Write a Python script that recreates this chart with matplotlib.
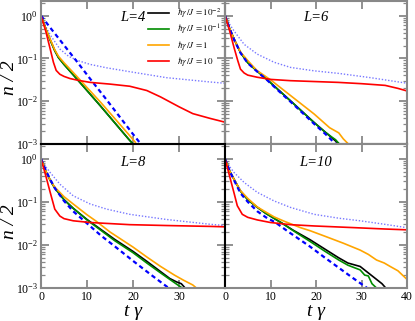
import numpy as np
import matplotlib.pyplot as plt
from matplotlib.ticker import LogLocator, NullFormatter

plt.rcParams['font.family'] = ['Liberation Serif', 'DejaVu Serif']
plt.rcParams['mathtext.fontset'] = 'stix'

# all values are log10(n/2), t = t*gamma

# ---------------- L = 4
t_dot4 = [0, 1, 2, 4.1, 6, 8, 10.7, 14.3, 19.3, 27.3, 36.7, 40]
dot4 = [0, -0.25, -0.45, -0.78, -0.95, -1.05, -1.14, -1.22, -1.31, -1.45, -1.55, -1.58]
t_dash4 = [0, 2, 5, 8, 11, 14, 17, 20, 22]
dash4 = [0, -0.28, -0.69, -1.1, -1.52, -1.93, -2.35, -2.77, -3.04]
t_red4 = [0, 1, 2, 2.7, 3.3, 4.1, 5, 6.3, 8, 10.7, 15, 19.3, 23, 26, 30, 33, 36.7, 40]
red4 = [0, -0.35, -0.78, -1.09, -1.28, -1.37, -1.42, -1.47, -1.51, -1.56, -1.6, -1.65,
        -1.75, -1.9, -2.13, -2.29, -2.4, -2.49]
t_blk4 = [0, 1, 2, 3, 3.8, 5, 7.8, 10, 13, 16, 19, 20]
blk4 = [0, -0.3, -0.57, -0.82, -0.98, -1.14, -1.48, -1.75, -2.12, -2.5, -2.88, -3.0]
t_grn4 = [0, 1, 2, 3, 3.8, 5, 7.8, 10, 13, 16, 19, 20]
grn4 = [0, -0.3, -0.57, -0.82, -0.98, -1.14, -1.48, -1.75, -2.12, -2.5, -2.88, -3.0]
t_org4 = [0, 1, 2, 3, 3.8, 5, 7.8, 10, 13, 16, 19, 20.5]
org4 = [0, -0.3, -0.55, -0.8, -0.95, -1.1, -1.42, -1.68, -2.03, -2.4, -2.77, -2.96]

# ---------------- L = 6
t_dot6 = [0, 1, 2, 4.2, 7.1, 10.8, 14.4, 19.6, 25, 32, 40]
dot6 = [0, -0.2, -0.36, -0.67, -0.9, -1.09, -1.21, -1.29, -1.35, -1.45, -1.58]
t_dash6 = [0, 1, 2, 3.4, 5, 7.1, 9.3, 12, 15, 19.6, 22, 24.5]
dash6 = [0, -0.3, -0.56, -0.87, -1.11, -1.31, -1.51, -1.78, -2.07, -2.53, -2.76, -3.02]
t_red6 = [0, 1, 2, 2.8, 3.4, 4.2, 5, 7.1, 10, 14.4, 19.6, 24.9, 30, 35.2, 38, 40]
red6 = [0, -0.35, -0.75, -1.05, -1.25, -1.34, -1.39, -1.44, -1.49, -1.52, -1.54, -1.56,
        -1.59, -1.63, -1.7, -1.76]
t_blk6 = [0, 1, 2, 3.4, 5, 7.1, 9.3, 12, 15, 19.6, 22, 25.3]
blk6 = [0, -0.3, -0.55, -0.86, -1.1, -1.3, -1.5, -1.76, -2.05, -2.5, -2.72, -3.02]
t_grn6 = [0, 1, 2, 3.4, 5, 7.1, 9.3, 12, 15, 19.6, 22, 23.5, 24.3, 25.3]
grn6 = [0, -0.3, -0.55, -0.86, -1.1, -1.3, -1.5, -1.76, -2.05, -2.5, -2.72, -2.84, -2.9, -3.02]
t_org6 = [0, 1, 2, 3.4, 5, 7, 10, 13, 16, 19.6, 23, 24, 25, 26, 27.3]
org6 = [0, -0.3, -0.55, -0.85, -1.05, -1.28, -1.5, -1.75, -2.0, -2.3, -2.62, -2.68,
        -2.74, -2.88, -3.02]

# ---------------- L = 8
t_dot8 = [0, 1, 2, 4.1, 7, 10.7, 14.3, 19.3, 27.3, 36.7, 40]
dot8 = [0, -0.18, -0.32, -0.59, -0.86, -1.05, -1.17, -1.29, -1.41, -1.52, -1.55]
t_dash8 = [0, 1, 2, 3, 5, 7, 10, 13, 16, 20, 24, 28]
dash8 = [0, -0.26, -0.48, -0.68, -0.98, -1.22, -1.5, -1.78, -2.03, -2.37, -2.7, -3.02]
t_red8 = [0, 1, 2, 3, 4.1, 5, 7, 10.7, 19.3, 27.3, 36.7, 40]
red8 = [0, -0.38, -0.78, -1.17, -1.33, -1.39, -1.44, -1.48, -1.53, -1.55, -1.57, -1.58]
t_blk8 = [0, 1, 2, 3, 5, 7, 10, 13, 16, 20, 23, 26, 28, 29.5, 30.5, 31.5]
blk8 = [0, -0.28, -0.5, -0.68, -0.95, -1.15, -1.41, -1.64, -1.87, -2.15, -2.38, -2.62,
        -2.78, -2.86, -2.9, -3.02]
t_grn8 = [0, 1, 2, 3, 5, 7, 10, 13, 16, 20, 23, 26, 28, 30, 31]
grn8 = [0, -0.28, -0.5, -0.68, -0.95, -1.15, -1.42, -1.66, -1.9, -2.18, -2.42, -2.65,
        -2.8, -2.95, -3.02]
t_org8 = [0, 1, 2, 3, 5, 7, 10, 12, 15, 20, 23, 26, 29, 31, 33, 34]
org8 = [0, -0.28, -0.5, -0.66, -0.88, -1.05, -1.3, -1.45, -1.7, -2.05, -2.28, -2.5,
        -2.7, -2.82, -2.93, -3.02]

# ---------------- L = 10
t_dot10 = [0, 1, 2, 4.2, 7.1, 10.8, 14.4, 19.6, 25, 29.7, 35, 40]
dot10 = [0, -0.18, -0.32, -0.55, -0.78, -0.98, -1.13, -1.29, -1.38, -1.44, -1.52, -1.6]
t_dash10 = [0, 1, 2, 3.4, 5, 7.1, 9, 11.1, 14, 18.7, 22, 25, 28, 31.5]
dash10 = [0, -0.28, -0.5, -0.8, -1.0, -1.22, -1.36, -1.48, -1.7, -2.04, -2.3, -2.53,
          -2.76, -3.02]
t_red10 = [0, 1, 2, 2.7, 3.8, 5, 7.1, 10, 14.4, 19.6, 28.6, 35, 40]
red10 = [0, -0.4, -0.8, -1.09, -1.29, -1.36, -1.42, -1.48, -1.53, -1.56, -1.6, -1.63, -1.65]
t_blk10 = [0, 1, 2, 3.4, 5, 7, 9, 12.6, 15, 18.7, 22, 25, 27, 29.7, 31.5, 33.3, 34.5, 35.5]
blk10 = [0, -0.28, -0.48, -0.75, -0.95, -1.12, -1.27, -1.5, -1.66, -1.88, -2.1, -2.3,
         -2.42, -2.5, -2.65, -2.8, -2.9, -3.02]
t_grn10 = [0, 1, 2, 3.4, 5, 7, 9, 12.6, 15, 18.7, 22, 25, 27, 29.7, 30.7, 31.5, 32.3, 33.5]
grn10 = [0, -0.28, -0.48, -0.75, -0.95, -1.12, -1.27, -1.5, -1.67, -1.92, -2.15, -2.35,
         -2.47, -2.58, -2.7, -2.72, -2.9, -3.02]
t_org10 = [0, 1, 2, 3.4, 5, 7.1, 10.8, 13, 16.6, 18.7, 22, 26, 29.7, 31.5, 33.3, 35,
           36.3, 38, 40]
org10 = [0, -0.28, -0.48, -0.74, -0.92, -1.12, -1.35, -1.45, -1.6, -1.67, -1.8, -1.96,
         -2.12, -2.22, -2.35, -2.42, -2.5, -2.6, -2.8]

legend_labels = [r'$\hbar\gamma\,/J\,=10^{-2}$', r'$\hbar\gamma\,/J\,=10^{-1}$',
                 r'$\hbar\gamma\,/J\,=1$', r'$\hbar\gamma\,/J\,=10$']
panel_names = ['L=4', 'L=6', 'L=8', 'L=10']

GRAY = '#888888'

fig = plt.figure(figsize=(4.15, 3.21), dpi=100)
W, H = 415.0, 321.0
ax1 = fig.add_axes([41 / W, 1 - 144 / H, 184 / W, 143 / H])
ax2 = fig.add_axes([225 / W, 1 - 144 / H, 182 / W, 143 / H])
ax3 = fig.add_axes([41 / W, 1 - 288 / H, 184 / W, 144 / H])
ax4 = fig.add_axes([225 / W, 1 - 288 / H, 182 / W, 144 / H])

panels = [
    (ax1, t_dot4, dot4, t_dash4, dash4, t_blk4, blk4, t_grn4, grn4, t_org4, org4, t_red4, red4),
    (ax2, t_dot6, dot6, t_dash6, dash6, t_blk6, blk6, t_grn6, grn6, t_org6, org6, t_red6, red6),
    (ax3, t_dot8, dot8, t_dash8, dash8, t_blk8, blk8, t_grn8, grn8, t_org8, org8, t_red8, red8),
    (ax4, t_dot10, dot10, t_dash10, dash10, t_blk10, blk10, t_grn10, grn10, t_org10, org10,
     t_red10, red10),
]

for i, p in enumerate(panels):
    ax = p[0]
    ax.plot(p[1], 10 ** np.array(p[2]), color='#7878ff', lw=1.0, ls=(0, (1, 1.3)))
    ax.plot(p[5], 10 ** np.array(p[6]), color='black', lw=1.2, label=legend_labels[0])
    ax.plot(p[7], 10 ** np.array(p[8]), color='#008c00', lw=1.2, label=legend_labels[1])
    ax.plot(p[9], 10 ** np.array(p[10]), color='#ffa500', lw=1.2, label=legend_labels[2])
    ax.plot(p[3], 10 ** np.array(p[4]), color='#0000ff', lw=1.6, ls=(0, (2.0, 1.5)))
    ax.plot(p[11], 10 ** np.array(p[12]), color='#ff0000', lw=1.2, label=legend_labels[3])

    ax.set_yscale('log')
    ax.set_xlim(0, 40)
    ax.set_ylim(1e-3, 2.2)
    ax.yaxis.set_minor_locator(LogLocator(base=10, subs=np.arange(2, 10)))
    ax.yaxis.set_minor_formatter(NullFormatter())
    ax.set_xticks([0, 10, 20, 30, 40])
    ax.set_yticks([1e-3, 1e-2, 1e-1, 1])
    ax.tick_params(which='both', direction='in', top=True, right=True, color=GRAY,
                   labelsize=8.5, pad=2)
    ax.tick_params(which='major', length=6, width=1.3)
    ax.tick_params(which='minor', length=3, width=0.9)
    for s in ax.spines.values():
        s.set_color(GRAY)
        s.set_linewidth(1.5)

    row, col = divmod(i, 2)
    if row == 0:
        ax.tick_params(labelbottom=False)
        ax.spines['bottom'].set_color('black')
        ax.spines['bottom'].set_zorder(5)
    else:
        if col == 0:
            ax.set_xticklabels(['0', '10', '20', '30', ''])
    if col == 1:
        ax.tick_params(labelleft=False)
        ax.spines['left'].set_color('black')
    ax.text(0.5, 0.885 if row == 0 else 0.875, panel_names[i], transform=ax.transAxes,
            ha='center', va='center', fontsize=10.5, style='italic')

ax1.set_zorder(3)
ax1.patch.set_alpha(0)
leg = ax1.legend(loc='upper left', bbox_to_anchor=(0.55, 1.0), frameon=False, fontsize=6.5,
                 handlelength=2.4, handletextpad=0.9, labelspacing=0.3, borderaxespad=0.2)

fig.text(10 / W, 1 - 78 / H, 'n / 2', rotation=90, ha='center', va='center',
         fontsize=14, style='italic')
fig.text(10 / W, 1 - 222 / H, 'n / 2', rotation=90, ha='center', va='center',
         fontsize=14, style='italic')
fig.text(133 / W, 1 - 311 / H, 't γ', ha='center', va='center', fontsize=14, style='italic')
fig.text(316 / W, 1 - 311 / H, 't γ', ha='center', va='center', fontsize=14, style='italic')

fig.savefig('out.png', dpi=100)
